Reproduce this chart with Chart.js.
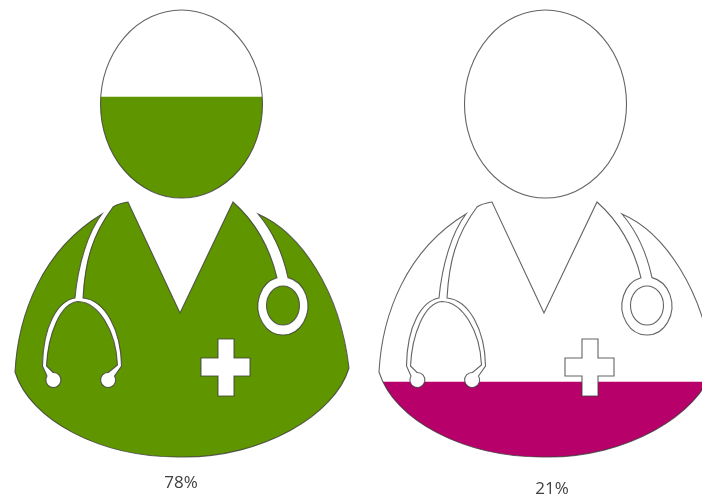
<!DOCTYPE html>
<html>
<head>
<meta charset="utf-8">
<style>
  html, body { margin: 0; padding: 0; background: #fff; overflow: hidden; }
  canvas { display: block; }
</style>
<script src="https://cdn.jsdelivr.net/npm/chart.js@4/dist/chart.umd.min.js"></script>
</head>
<body>
<canvas id="chart" width="728" height="495" style="width:728px;height:495px"></canvas>
<script>
const categories = ['Green', 'Magenta'];
const values = [78, 21];
const barColors = ['#5f9600', '#b8006b'];
const labelColor = '#404040';

// doctor outline, in the coordinates of the left figure (centre x = 182)
const doctorCentre = 182;
const doctor = new Path2D(
  // body with the stethoscope and ring cut out of its edge
  'M15 372 C18 315 42 250 102 214 ' +
  'C88 232 78 265 75 298 C58 301 43 325 42.5 366 L47 376 ' +
  'A7.5 7.5 0 1 0 53 372.5 L46.5 366 C48 335 60 303 78 301.5 C98 302 116 330 117.5 365 L108.5 372.5 ' +
  'A7.5 7.5 0 1 0 114.5 376 L121.5 366 C121 330 105 300 83 298 ' +
  'C85 262 92 235 113 207 C117 204 122 203 128 202 L180 313 L233 202 ' +
  'C250 217 268 240 277 277.8 A25 29 0 1 0 288 277.6 C282 250 270 228 258 214 ' +
  'C300 232 340 290 349 368 C335 415 262 458 182 457 C100 458 30 420 15 372 Z ' +
  // head
  'M100.5 104 A81 94 0 1 0 262.5 104 A81 94 0 1 0 100.5 104 Z ' +
  // inside of the ring
  'M266.5 305.5 A16.5 19.5 0 1 0 299.5 305.5 A16.5 19.5 0 1 0 266.5 305.5 Z ' +
  // cross
  'M218 339 H234 V358 H250 V376 H234 V396 H218 V376 H201 V358 H218 Z'
);

function figures(chart) {
  const all = new Path2D();
  chart.getDatasetMeta(0).data.forEach(bar => {
    all.addPath(doctor, new DOMMatrix().translate(bar.x - doctorCentre, 0));
  });
  return all;
}

const pictogram = {
  id: 'pictogram',
  beforeDatasetsDraw(chart) {
    chart.ctx.save();
    chart.ctx.clip(figures(chart), 'evenodd');
  },
  afterDatasetsDraw(chart) {
    const ctx = chart.ctx;
    ctx.restore();
    ctx.save();
    // the original is a soft, upscaled image, so the outline is slightly blurred
    ctx.filter = 'blur(0.4px)';
    ctx.strokeStyle = 'rgba(60,60,60,0.8)';
    ctx.lineWidth = 1.1;
    ctx.stroke(figures(chart));
    ctx.restore();
    ctx.save();
    ctx.fillStyle = labelColor;
    ctx.font = '17px "Open Sans"';
    ctx.textAlign = 'center';
    ctx.textBaseline = 'middle';
    // the two captions do not sit on one line in the original
    const captionY = [483, 489];
    const captionShift = [-1, 6];
    chart.getDatasetMeta(0).data.forEach((bar, i) => {
      ctx.fillText(values[i] + '%', bar.x + captionShift[i], captionY[i]);
    });
    ctx.restore();
  }
};

new Chart(document.getElementById('chart'), {
  type: 'bar',
  plugins: [pictogram],
  data: {
    labels: categories,
    datasets: [{
      data: values,
      backgroundColor: barColors,
      barPercentage: 1,
      categoryPercentage: 1
    }]
  },
  options: {
    responsive: false,
    animation: false,
    devicePixelRatio: 1,
    layout: { padding: { bottom: 8 } },
    plugins: {
      legend: { display: false },
      tooltip: { enabled: false }
    },
    scales: {
      x: { display: false },
      y: { display: false, min: 0, max: 97.4 }
    }
  }
});
</script>
</body>
</html>
